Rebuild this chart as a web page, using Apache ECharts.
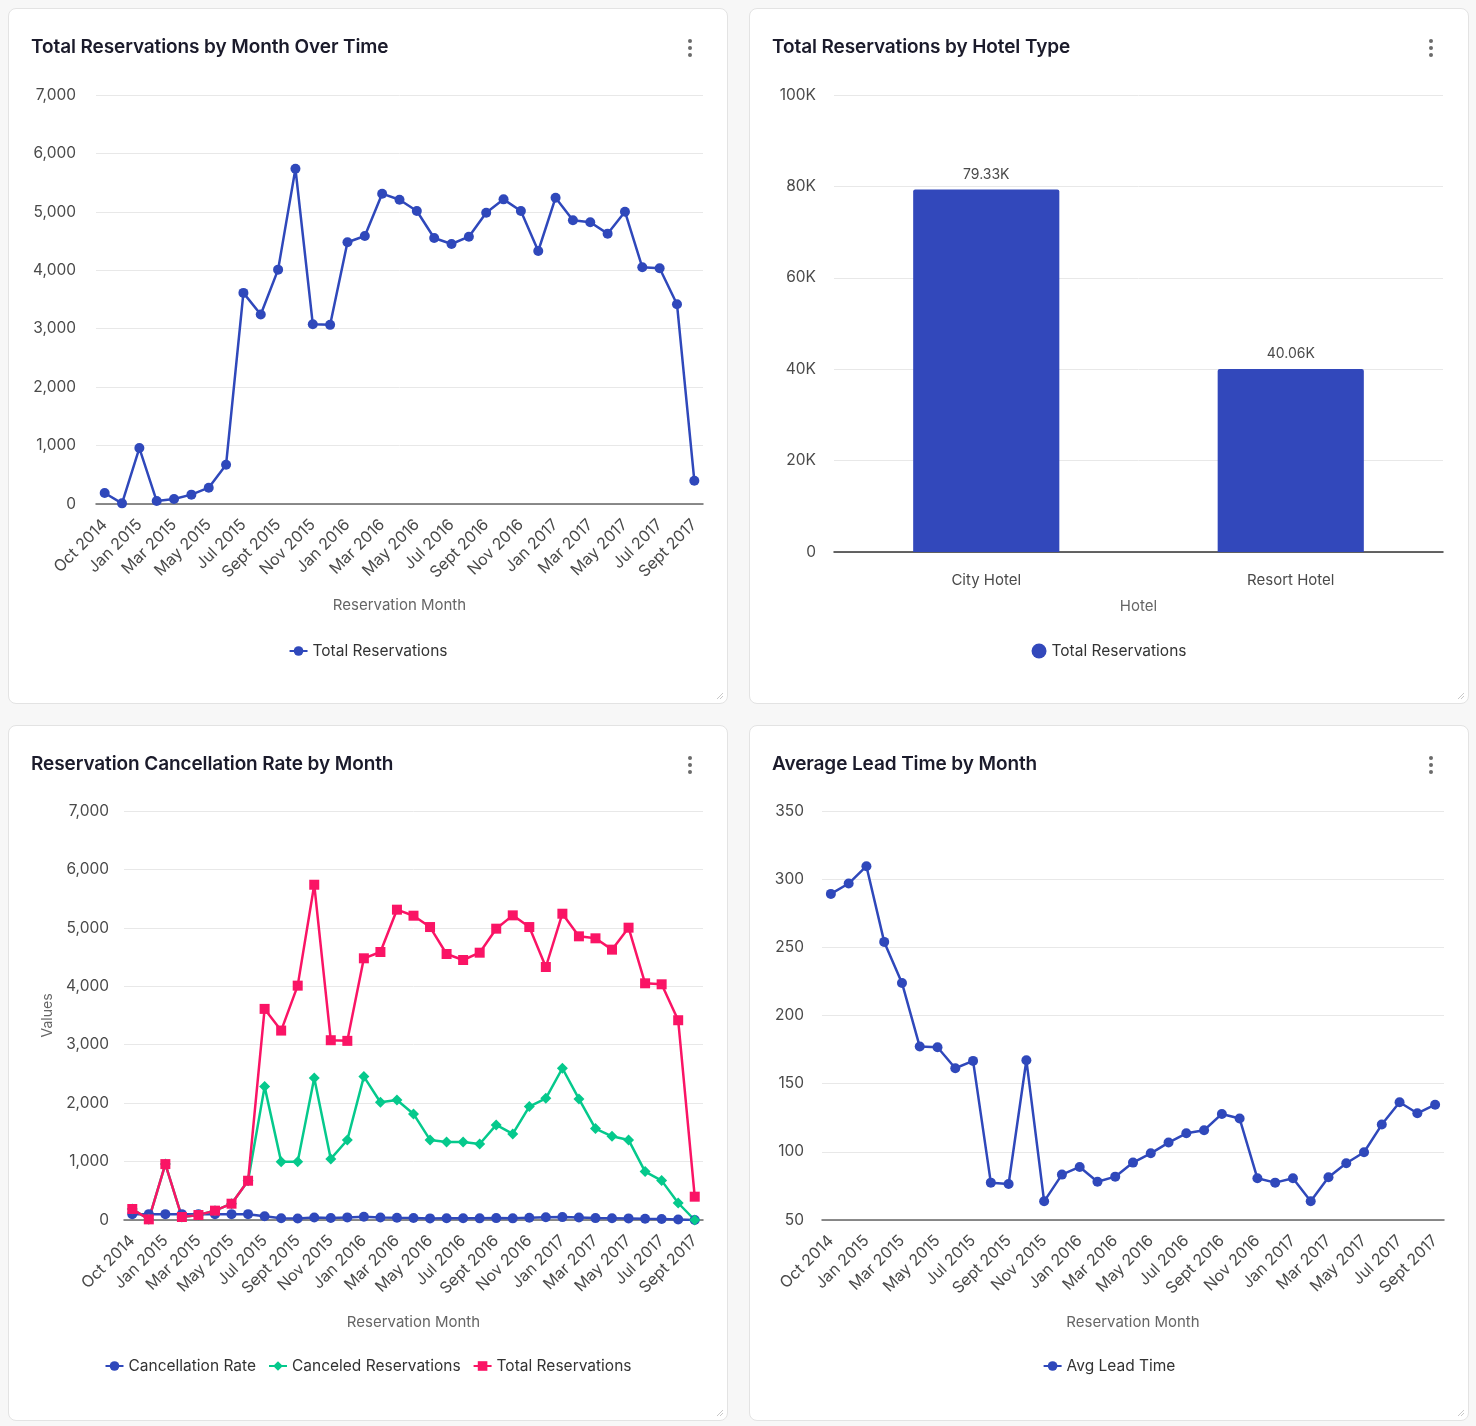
<!DOCTYPE html>
<html>
<head>
<meta charset="utf-8">
<script src="https://cdn.jsdelivr.net/npm/echarts@6/dist/echarts.min.js"></script>
<style>
  html, body { margin: 0; padding: 0; background: #f7f7f7; width: 1476px; height: 1426px; overflow: hidden; font-family: Inter, "Noto Sans", sans-serif; }
  .card { position: absolute; width: 718px; height: 694px; background: #fff; border: 1px solid #e3e3e3; border-radius: 8px; }
  .chart { position: absolute; left: 0; top: 0; width: 718px; height: 694px; }
  .title { position: absolute; left: 22px; top: 26px; font-size: 19px; font-weight: 600; color: #1b1b2b; z-index: 2; letter-spacing: -0.1px; }
  .kebab { position: absolute; left: 679px; top: 30px; width: 4px; z-index: 2; }
  .kebab span { display: block; width: 4px; height: 4px; border-radius: 2px; background: #6b6b6b; margin-bottom: 3px; }
  .handle { position: absolute; right: 3px; bottom: 3px; width: 9px; height: 9px; z-index: 2; }
</style>
</head>
<body>
<div class="card" style="left:8px;top:8px"><div class="title">Total Reservations by Month Over Time</div><div class="kebab"><span></span><span></span><span></span></div><div id="c1" class="chart"></div><svg class="handle" viewBox="0 0 9 9"><path d="M8 2 L2 8 M8 5 L5 8" stroke="#c8c8c8" stroke-width="1"/></svg></div>
<div class="card" style="left:749px;top:8px"><div class="title">Total Reservations by Hotel Type</div><div class="kebab"><span></span><span></span><span></span></div><div id="c2" class="chart"></div><svg class="handle" viewBox="0 0 9 9"><path d="M8 2 L2 8 M8 5 L5 8" stroke="#c8c8c8" stroke-width="1"/></svg></div>
<div class="card" style="left:8px;top:725px"><div class="title">Reservation Cancellation Rate by Month</div><div class="kebab"><span></span><span></span><span></span></div><div id="c3" class="chart"></div><svg class="handle" viewBox="0 0 9 9"><path d="M8 2 L2 8 M8 5 L5 8" stroke="#c8c8c8" stroke-width="1"/></svg></div>
<div class="card" style="left:749px;top:725px"><div class="title">Average Lead Time by Month</div><div class="kebab"><span></span><span></span><span></span></div><div id="c4" class="chart"></div><svg class="handle" viewBox="0 0 9 9"><path d="M8 2 L2 8 M8 5 L5 8" stroke="#c8c8c8" stroke-width="1"/></svg></div>
<script>
const months = ['Oct 2014','Nov 2014','Jan 2015','Feb 2015','Mar 2015','Apr 2015','May 2015','Jun 2015','Jul 2015','Aug 2015','Sept 2015','Oct 2015','Nov 2015','Dec 2015','Jan 2016','Feb 2016','Mar 2016','Apr 2016','May 2016','Jun 2016','Jul 2016','Aug 2016','Sept 2016','Oct 2016','Nov 2016','Dec 2016','Jan 2017','Feb 2017','Mar 2017','Apr 2017','May 2017','Jun 2017','Jul 2017','Aug 2017','Sept 2017'];
const totalReservations = [188,11,957,51,85,160,279,672,3613,3242,4011,5738,3077,3066,4479,4587,5311,5208,5014,4553,4450,4575,4986,5214,5014,4330,5242,4855,4821,4627,5003,4051,4034,3419,399];
const canceledReservations = [188,11,957,51,85,160,279,672,2283,999,999,2432,1045,1370,2454,2015,2055,1815,1370,1336,1336,1301,1627,1473,1941,2083,2597,2072,1564,1433,1370,828,674,291,0];
const cancellationRate = [100,100,100,100,100,100,100,100,63.2,30.8,24.9,42.4,34.0,44.7,54.8,43.9,38.7,34.9,27.3,29.3,30.0,28.4,32.6,28.3,38.7,48.1,49.5,42.7,32.4,31.0,27.4,20.4,16.7,8.5,0];
const avgLeadTime = [289.2,296.8,309.5,254.0,223.9,177.2,176.7,161.3,166.7,77.4,76.4,167.2,63.7,83.3,88.9,78.1,81.8,92.1,98.9,106.8,113.6,115.8,127.8,124.4,80.6,77.4,80.6,63.7,81.3,91.6,99.7,120.0,136.4,128.3,134.6];
const hotels = ['City Hotel','Resort Hotel'];
const hotelTotals = [79330, 40060];

const FONT = 'Inter, "Noto Sans", sans-serif';
const BLUE = '#2f48bb', GREEN = '#05c98c', PINK = '#fa1465';
const labelColor = '#4a4a4a', nameColor = '#666';
const fmtComma = v => Number(v).toLocaleString('en-US');

function timeX(name, gap) {
  return {
    type: 'category', data: months,
    axisLine: { lineStyle: { color: '#666', width: 1.5 } },
    axisTick: { show: false },
    axisLabel: { interval: 1, rotate: 45, color: labelColor, fontSize: 16, fontFamily: FONT, margin: 18 },
    name: name, nameLocation: 'middle', nameGap: gap,
    nameTextStyle: { color: nameColor, fontSize: 15, fontFamily: FONT }
  };
}
function valY(min, max, interval, fmt, margin) {
  return {
    type: 'value', min: min, max: max, interval: interval,
    axisLine: { show: false }, axisTick: { show: false },
    splitLine: { lineStyle: { color: '#e8e8e8' } },
    axisLabel: { color: labelColor, fontSize: 15.5, fontFamily: FONT, margin: margin, formatter: fmt }
  };
}
function legend(extra) {
  return Object.assign({
    top: 629, left: 'center', itemWidth: 18, itemHeight: 12, itemGap: 12,
    textStyle: { color: '#333', fontSize: 15.5, fontFamily: FONT }
  }, extra || {});
}
const lineSeries = (name, data, color, symbol, size) => ({
  name: name, type: 'line', data: data, symbol: symbol, symbolSize: size,
  itemStyle: { color: color }, lineStyle: { color: color, width: 2.5 }
});

// Chart 1
echarts.init(document.getElementById('c1')).setOption({
  animation: false,
  grid: { left: 87, right: 24, top: 86, bottom: 199 },
  xAxis: timeX('Reservation Month', 94),
  yAxis: valY(0, 7000, 1000, fmtComma, 20),
  legend: legend(),
  series: [lineSeries('Total Reservations', totalReservations, BLUE, 'circle', 10)]
});

// Chart 2
echarts.init(document.getElementById('c2')).setOption({
  animation: false,
  grid: { left: 84, right: 25, top: 86, bottom: 151 },
  xAxis: {
    type: 'category', data: hotels,
    axisLine: { lineStyle: { color: '#333', width: 1.5 } }, axisTick: { show: false },
    axisLabel: { color: labelColor, fontSize: 15, fontFamily: FONT, margin: 21 },
    name: 'Hotel', nameLocation: 'middle', nameGap: 47,
    nameTextStyle: { color: nameColor, fontSize: 15, fontFamily: FONT }
  },
  yAxis: valY(0, 100000, 20000, v => v === 0 ? '0' : (v / 1000) + 'K', 18),
  legend: legend({ icon: 'circle', itemWidth: 15, itemHeight: 15, top: 629 }),
  series: [{
    name: 'Total Reservations', type: 'bar', data: hotelTotals, barWidth: '48%',
    itemStyle: { color: '#3248bb', borderRadius: [2, 2, 0, 0] },
    label: { show: true, position: 'top', distance: 8, color: labelColor, fontSize: 14, fontFamily: FONT, formatter: p => (p.value / 1000).toFixed(2) + 'K' }
  }]
});

// Chart 3
const y3 = valY(0, 7000, 1000, fmtComma, 15);
y3.name = 'Values'; y3.nameLocation = 'middle'; y3.nameGap = 69;
y3.nameTextStyle = { color: nameColor, fontSize: 14, fontFamily: FONT };
echarts.init(document.getElementById('c3')).setOption({
  animation: false,
  grid: { left: 115, right: 24, top: 85, bottom: 200 },
  xAxis: timeX('Reservation Month', 95), yAxis: y3,
  legend: legend({ top: 627 }),
  series: [
    lineSeries('Cancellation Rate', cancellationRate, BLUE, 'circle', 10),
    lineSeries('Canceled Reservations', canceledReservations, GREEN, 'diamond', 11),
    lineSeries('Total Reservations', totalReservations, PINK, 'rect', 10)
  ]
});

// Chart 4
echarts.init(document.getElementById('c4')).setOption({
  animation: false,
  grid: { left: 72, right: 24, top: 85, bottom: 200 },
  xAxis: timeX('Reservation Month', 95),
  yAxis: valY(50, 350, 50, fmtComma, 18),
  legend: legend({ top: 627 }),
  series: [lineSeries('Avg Lead Time', avgLeadTime, BLUE, 'circle', 10)]
});
</script>
</body>
</html>
